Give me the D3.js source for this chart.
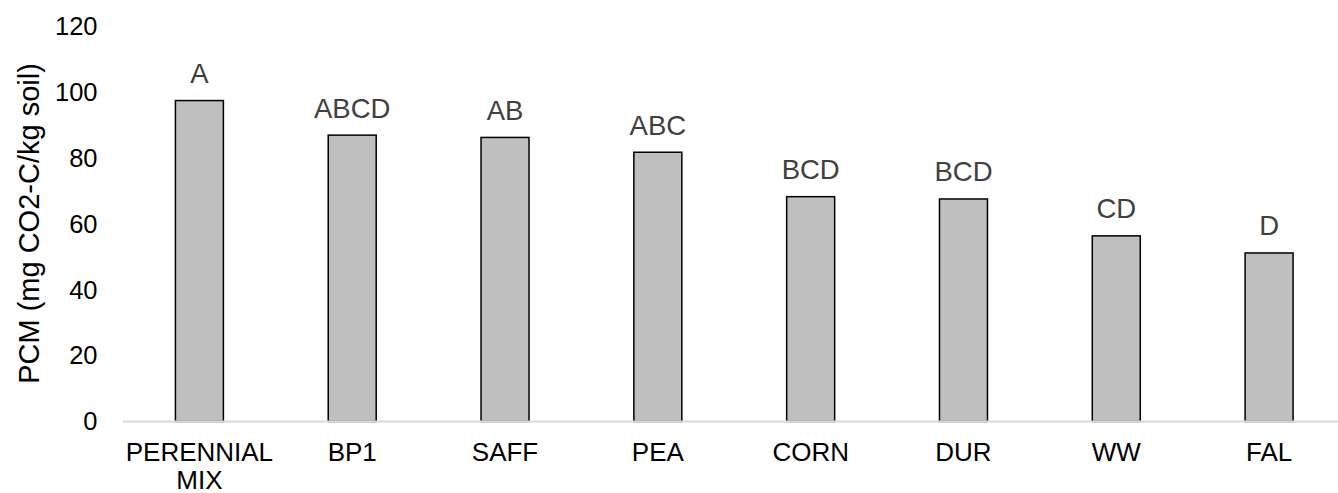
<!DOCTYPE html>
<html><head><meta charset="utf-8">
<script src="https://cdn.jsdelivr.net/npm/d3@7"></script>
<style>body{margin:0;background:#fff}svg{display:block}text{font-family:Arial,"Liberation Sans",sans-serif}</style>
</head><body><svg id="c" width="1338" height="493"></svg>
<script>
const categories = ["PERENNIAL MIX","BP1","SAFF","PEA","CORN","DUR","WW","FAL"];
const values = [97.5, 87.0, 86.3, 81.8, 68.3, 67.6, 56.4, 51.2];
const letters = ["A","ABCD","AB","ABC","BCD","BCD","CD","D"];
const yTicks = [0,20,40,60,80,100,120];
const yTitle = "PCM (mg CO2-C/kg soil)";

const svg = d3.select("#c");
const x = d3.scaleBand().domain(categories).range([123,1345.5]).paddingInner(0.686).paddingOuter(0.343);
const y = d3.scaleLinear().domain([0,120]).range([421.5,26.5]);

// bars
svg.selectAll("rect.bar").data(values).join("rect")
  .attr("x",(d,i)=>x(categories[i])).attr("width",x.bandwidth())
  .attr("y",d=>y(d)).attr("height",d=>y(0)-y(d))
  .attr("fill","#bfbfbf").attr("stroke","#000").attr("stroke-width",1.5);

// axis line
svg.append("line").attr("x1",123).attr("x2",1338).attr("y1",y(0)).attr("y2",y(0))
  .attr("stroke","#d9d9d9").attr("stroke-width",2);

// y tick labels
const yAxis = d3.axisLeft(y).tickValues(yTicks).tickSize(0).tickPadding(0);
const gy = svg.append("g").attr("transform","translate(97.5,0)").call(yAxis);
gy.select(".domain").remove();
gy.selectAll("text").attr("font-size",25.5).attr("fill","#000").attr("font-family","Arial, 'Liberation Sans', sans-serif");

// x labels
const gx = svg.append("g");
categories.forEach((c,i)=>{
  const words = c.split(" ");
  const lines = words.length>1 ? [words.slice(0,-1).join(" "), words[words.length-1]] : [c];
  const t = gx.append("text").attr("x",x(c)+x.bandwidth()/2).attr("y",461)
    .attr("text-anchor","middle").attr("font-size",26).attr("fill","#000");
  lines.forEach((l,j)=>t.append("tspan").attr("x",x(c)+x.bandwidth()/2).attr("dy",j?27.5:0).text(l));
});

// letters
svg.selectAll("text.lab").data(values).join("text").attr("class","lab")
  .attr("x",(d,i)=>x(categories[i])+x.bandwidth()/2).attr("y",d=>y(d)-17.5)
  .attr("text-anchor","middle").attr("font-size",27.5).attr("fill","#404040")
  .text((d,i)=>letters[i]);

// y title
svg.append("text").attr("transform","translate(39,223.5) rotate(-90)")
  .attr("text-anchor","middle").attr("font-size",29).attr("fill","#000").text(yTitle);
</script></body></html>
